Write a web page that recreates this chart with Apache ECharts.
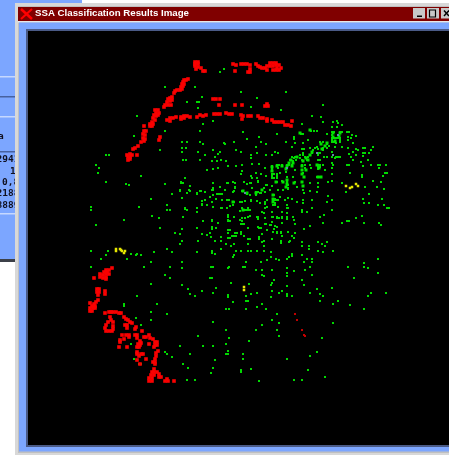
<!DOCTYPE html>
<html><head><meta charset="utf-8">
<style>html,body{margin:0;padding:0;background:#fff;overflow:hidden}#c{width:449px;height:455px}</style>
<script src="https://cdn.jsdelivr.net/npm/echarts@6/dist/echarts.min.js"></script>
</head><body><div id="c"></div>
<script>
const titleText = "SSA Classification Results Image";
const sideLabels = ["a","2941","1","0,8","2188","8889"];

const greenPoints = [
[165,87],[195,87],[220,72],[224,69],[202,97],[187,102],[197,102],[199,102],[198,108],[137,116],[203,124],[213,121],[165,131],[200,131],[134,136],[182,142],[187,142],[200,142],[203,144],[224,143],[182,148],[186,148],[182,152],[160,150],[198,152],[213,150],[220,152],[218,154],[215,157],[106,155],[109,155],[205,155],[183,160],[186,160],[200,160],[212,161],[217,161],[221,160],[96,165],[99,168],[98,173],[207,170],[213,169],[218,168],[141,176],[185,178],[106,182],[126,184],[129,185],[165,184],[181,182],[190,186],[213,183],[172,194],[180,191],[190,191],[187,193],[197,194],[201,191],[205,192],[213,190],[217,194],[222,194],[182,198],[210,197],[216,199],[222,200],[202,201],[151,199],[91,207],[91,210],[139,207],[167,205],[167,210],[170,210],[185,208],[187,210],[197,208],[197,212],[202,205],[207,205],[212,202],[213,207],[221,208],[152,216],[159,218],[183,217],[124,220],[203,221],[212,220],[218,223],[96,225],[160,228],
[241,92],[286,92],[257,98],[323,105],[251,107],[281,110],[312,116],[321,117],[323,122],[302,124],[243,132],[277,134],[247,139],[259,137],[261,142],[266,144],[256,147],[234,142],[225,144],[236,150],[241,152],[251,155],[251,158],[257,153],[266,155],[272,155],[275,152],[278,153],[226,161],[228,166],[236,166],[242,165],[242,171],[241,174],[252,164],[259,164],[265,168],[256,173],[261,174],[251,176],[252,178],[257,178],[266,176],[244,182],[251,183],[247,184],[258,182],[235,183],[228,183],[235,188],[225,190],[234,191],[242,191],[247,194],[252,188],[258,192],[256,195],[261,193],[264,188],[267,185],
[272,166],[272,168],[272,170],[277,165],[279,165],[282,165],[287,165],[289,165],[292,165],[286,168],[286,172],[278,168],[272,174],[274,174],[277,174],[272,176],[277,176],[272,178],[274,178],[277,178],[280,173],[287,177],[282,181],[287,182],[288,185],[288,188],[295,170],[293,177],[295,182],[297,187],[302,182],[303,190],[304,193],[310,191],[317,192],[318,187],[310,183],[318,183],[328,182],[332,181],[342,183],[332,174],[317,177],[320,177],[303,173],[305,168],[302,165],[305,165],[318,165],[320,165],[318,167],[320,167],[318,169],[310,165],[311,168],[323,165],[325,170],[332,168],[333,165],[332,163],[347,165],[349,165],[350,173],[362,175],[362,177],[363,166],[371,165],[378,165],[380,165],[379,168],[386,165],[385,173],[387,173],[383,176],[373,181],[381,182],[377,187],[384,189],[365,187],[346,192],[369,194],[363,199],[382,199],[364,203],[369,203],[378,205],[384,205],[387,208],[389,208],[332,200],[328,196],[327,202],[332,210],[324,215],[320,217],[312,200],[312,208],[303,200],[303,203],[297,202],[302,210],[302,212],[307,212],[293,217],[294,220],[287,217],[282,217],[282,223],[278,207],[282,212],[287,208],[288,198],[292,199],[280,197],[273,200],[275,200],[277,200],[274,195],[275,203],[275,205],[265,203],[267,200],[265,208],[264,213],[260,203],[257,201],[251,200],[245,201],[244,210],[246,210],[248,210],[240,202],[234,202],[227,200],[230,206],[240,211],[245,218],[248,217],[257,217],[272,217],[277,217],[228,217],[228,220],[234,217],[240,220],[242,224],[244,224],[258,227],[265,224],[270,225],[275,226],[295,224],[310,226],[323,223],[342,223],[347,221],[349,221],[356,218],[364,223],[362,216],[379,223],[381,225],
[333,122],[337,121],[338,123],[342,125],[332,127],[337,127],[332,132],[334,132],[332,135],[340,132],[342,132],[347,132],[349,132],[352,135],[356,136],[348,137],[348,140],[351,138],[353,143],[332,138],[334,138],[336,138],[338,138],[340,138],[332,140],[340,140],[332,142],[334,142],[336,143],[340,142],[327,134],[311,131],[314,131],[317,131],[301,134],[303,134],[294,137],[294,139],[308,140],[303,143],[295,143],[286,142],[292,147],[302,149],[304,149],[310,148],[317,147],[320,142],[323,142],[323,148],[323,150],[327,148],[332,152],[335,147],[342,147],[348,148],[356,149],[358,150],[363,148],[365,148],[373,147],[371,150],[369,153],[363,153],[365,153],[353,152],[349,154],[351,157],[356,155],[363,156],[353,160],[361,162],[368,160],[340,157],[335,158],[332,157],[336,157],[338,157],[327,157],[318,153],[320,153],[318,155],[318,160],[320,160],[324,157],[305,157],[303,155],[303,153],[307,160],[300,155],[312,153],[308,157],[302,160],[295,157],[290,160],[292,157],[294,158],[293,161],[296,160],[300,158],[310,155],[313,150],[315,148],[318,149],[325,146],[327,144],[329,146],
[175,233],[180,234],[182,229],[197,228],[202,234],[207,235],[210,233],[211,237],[215,241],[221,237],[221,241],[198,241],[182,241],[180,244],[221,249],[212,251],[212,253],[215,254],[197,252],[172,252],[167,249],[154,252],[151,262],[141,255],[137,254],[136,255],[131,254],[127,259],[108,251],[106,255],[101,259],[91,251],[91,267],[144,267],[170,267],[182,262],[182,268],[211,267],[213,267],[165,275],[170,278],[210,278],[212,278],[182,285],[151,284],[188,289],[202,291],[216,288],[190,294],[195,296],[213,293],[137,296],[157,304],[124,304],[124,306],[151,312],[167,314],[136,318],[151,320],[141,325],[213,322],[198,336],[131,344],[180,346],[203,346],[213,346],[165,352],[167,354],[172,357],[190,354],[134,359],[215,360],[183,364],[139,364],[141,364],[188,368],[213,368],[211,373],[187,380],[195,380],
[228,233],[235,233],[237,233],[241,232],[241,234],[244,236],[232,236],[234,236],[236,236],[228,238],[230,238],[248,239],[250,239],[259,237],[259,239],[262,234],[267,230],[274,229],[277,233],[281,233],[282,236],[272,239],[264,241],[262,242],[281,241],[281,243],[290,241],[289,242],[292,236],[294,238],[295,233],[304,229],[302,242],[302,246],[309,246],[309,249],[318,242],[322,244],[327,242],[325,246],[318,251],[323,252],[333,251],[226,244],[231,246],[234,244],[248,244],[264,246],[236,251],[241,251],[248,251],[251,251],[257,251],[264,251],[271,252],[271,257],[267,260],[261,262],[246,262],[234,255],[233,257],[276,259],[279,260],[287,259],[289,257],[292,254],[292,256],[302,255],[307,259],[312,259],[304,262],[312,262],[310,267],[305,270],[287,268],[294,271],[287,273],[287,276],[312,275],[302,280],[304,285],[287,286],[272,270],[262,270],[256,270],[243,267],[245,267],[229,267],[228,268],[262,275],[264,276],[274,280],[272,283],[271,285],[231,283],[249,284],[272,291],[279,293],[282,291],[257,293],[228,295],[228,297],[251,294],[246,296],[271,297],[287,294],[287,296],[292,296],[310,293],[317,289],[320,294],[323,296],[320,301],[332,288],[338,301],[333,304],[350,305],[364,309],[368,296],[371,293],[386,293],[354,278],[378,273],[368,268],[364,267],[364,263],[378,259],[348,267],[233,302],[246,301],[248,301],[262,304],[226,309],[229,309],[246,309],[257,307],[266,309],[277,314],[272,320],[279,323],[262,325],[333,323],[226,330],[256,330],[277,330],[279,336],[229,338],[249,341],[226,344],[322,338],[228,351],[243,354],[226,354],[228,354],[243,359],[287,359],[310,356],[317,352],[251,369],[241,370],[241,372],[308,370],[325,377],[259,381],[294,380],[302,380],
[181,183],[183,183],[190,186],[189,190],[187,193],[200,191],[205,192],[212,190],[213,188],[213,195],[213,183],[227,183],[233,182],[244,182],[250,183],[258,181],[266,185],[272,186],[277,182],[287,185],[288,189],[220,187],[235,187],[233,192],[242,191],[250,195],[256,192],[260,193],[265,192],[270,190],[278,190],[283,190],[197,193],[180,190],[172,194],[217,194],[219,194],[221,194],[182,198],[205,200],[212,202],[222,200],[227,200],[229,200],[233,202],[242,202],[245,201],[251,201],[257,201],[265,202],[273,199],[275,199],[278,200],[285,200],[202,204],[213,207],[222,208],[227,208],[233,205],[242,208],[248,208],[265,204],[267,207],[273,205],[278,207],[287,205],[288,208],[197,208],[185,209],[170,210],[197,212],[228,215],[228,217],[250,210],[250,216],[234,217],[242,218],[245,218],[262,212],[258,217],[272,212],[273,217],[277,218],[279,218],[282,218],[287,213],[183,217],[203,221],[212,221],[228,221],[230,221],[242,221],[258,219],[265,218],[272,222],[287,219],[218,223],[241,224],[244,224],[266,224],[271,225],[277,227],[282,223],[197,228],[182,229],[212,227],[212,229],[216,228],[228,230],[230,230],[248,228],[259,228],[261,228],[273,232],[277,232],[281,232],[288,232],[175,233]
];

const greenBlocks = [
[300,133],[310,130],[333,137],[335,141],[339,136],[333,133],[340,133],[321,144],[325,146],[322,149],[327,143],
[310,155],[306,158],[303,161],[312,152],[308,160],[291,160],[289,163],[293,163],[297,157],
[272,167],[272,171],[277,166],[282,166],[287,166],[292,166],[286,169],[302,166],[302,170],[302,174],[304,177],[306,170],[317,165],[319,168],[318,177],[321,177],
[287,180],[287,184],[286,187],[302,182],[303,186],[273,195],[273,199],[273,202],[243,210],[233,202],[262,190],[256,193],[247,193],[243,191],[276,182],[283,182],[294,183]
];

const redPoints = [
[195,62],[198,62],[195,64],[198,64],[195,66],[198,67],[201,68],[196,69],[205,71],[203,71],
[233,64],[236,65],[241,64],[244,64],[247,64],[250,65],[250,69],[235,71],[256,64],[258,66],[260,67],[262,68],[265,68],[267,66],[267,70],[270,63],[273,63],[276,63],[270,66],[273,66],[276,65],[279,65],[273,70],[276,70],[279,70],[277,68],[281,68],[250,72],[248,72],
[188,79],[186,80],[184,80],[183,82],[182,84],[184,84],[181,87],[183,86],[180,90],[182,89],[177,90],[175,91],[174,93],
[172,97],[170,98],[168,99],[170,101],[167,102],[172,100],[165,105],[168,105],[164,107],[171,105],[158,110],[155,110],
[159,113],[156,113],[154,115],[156,116],[158,115],[153,118],[155,120],[152,122],[150,124],[153,124],[150,126],[152,126],[144,126],
[144,131],[146,131],[143,134],[145,135],[143,138],[145,139],[141,142],[144,141],[160,137],[159,140],
[138,146],[135,148],[133,149],[130,154],[128,157],[130,157],[132,155],[128,160],[130,159],[137,155],[127,155],
[213,99],[216,99],[220,99],[219,105],[235,105],[242,105],[265,106],[268,106],[267,104],
[170,118],[173,118],[176,117],[167,120],[170,121],[181,117],[184,116],[187,116],[181,119],[184,118],[190,117],[197,117],[200,115],[203,116],[206,115],[214,114],[217,114],[220,114],
[226,113],[229,114],[232,114],[241,115],[243,116],[242,119],[248,116],[251,116],[258,116],[260,118],[263,118],[267,119],[267,121],[272,120],[274,122],[277,122],[280,122],[283,122],[285,125],[288,125],[291,126],[292,121],
[112,268],[106,270],[109,270],[104,272],[107,272],[100,274],[103,275],[106,274],[109,274],[100,277],[103,278],[106,277],[106,279],[94,278],
[97,289],[99,289],[97,292],[99,292],[98,295],[105,291],[105,294],
[98,300],[96,302],[90,303],[94,304],[92,306],[95,306],[90,308],[93,308],[95,308],[90,311],[92,311],
[105,313],[109,312],[111,312],[113,312],[116,312],[119,313],[121,313],[110,317],[111,320],[113,322],[108,322],[106,325],[105,328],[113,326],[113,329],[106,331],[109,331],[112,331],
[124,317],[126,319],[128,320],[130,322],[132,323],[125,325],[127,325],[127,328],[135,329],[136,327],[142,331],
[122,335],[126,335],[129,335],[129,337],[135,335],[137,335],[137,338],[144,337],[146,337],[149,335],[150,338],[153,339],[120,340],[120,342],[124,339],[140,341],[141,343],[138,344],[140,345],[149,344],[155,342],[157,342],[155,345],[157,345],[154,347],[137,347],[139,347],[119,347],[127,347],
[137,352],[137,354],[141,354],[143,354],[139,356],[146,359],[137,360],[140,364],
[158,351],[156,353],[156,356],[155,359],[155,362],[153,362],[155,364],
[154,369],[152,372],[154,372],[151,375],[154,375],[149,378],[152,378],[149,381],[152,381],[157,372],[159,374],[159,377],[161,377],[167,379],[165,381],[168,381],[174,381]
];

const darkRedPoints = [[295,314],[297,320],[302,330],[304,335],[305,336]];
const yellowPoints = [[116,249],[116,251],[120,249],[121,250],[122,251],[125,251],[124,253],[244,287],[244,290],[346,186],[352,187],[350,188],[356,184],[358,186]];
const steelPoints = [[317,153],[338,135],[333,155],[245,193],[287,168]];

const scatter = (data, size, color) => ({
  type: 'scatter', data, symbol: 'rect', symbolSize: size, silent: true,
  itemStyle: {color, opacity: 1}, animation: false
});

const rect = (x, y, w, h, fill, z) => ({type:'rect', z: z||1, silent:true, shape:{x,y,width:w,height:h}, style:{fill}});
const blue = '#7ca6ff';
const chrome = [
  rect(0,0,449,455,'#ffffff',0),
  rect(0,0,82,4,blue,1),
  rect(0,0,16,260,blue,1),
  rect(0,76,16,1.5,'#c6d8ff',2),
  rect(0,96,16,1.5,'#47619f',2),
  rect(0,116,16,1.5,'#c6d8ff',2),
  rect(0,151,16,1.5,'#47619f',2),
  rect(0,213,16,1.5,'#c6d8ff',2),
  rect(0,259,16,3,'#3c4048',2),
  rect(15,3,434,453,'#d8d8d8',5),
  rect(18,6,431,447,'#c0c0c0',6),
  rect(18,7,431,14,'#800000',7),
  rect(18,21,431,1.5,'#e8e8e8',7),
  rect(19,22.5,430,429,blue,7),
  rect(26,29,423,418,'#4a5a86',8),
  rect(28,31,421,414,'#000000',9),
  {type:'line', z:10, silent:true, shape:{x1:21,y1:9,x2:32,y2:19}, style:{stroke:'#ff0000',lineWidth:2.5}},
  {type:'line', z:10, silent:true, shape:{x1:32,y1:9,x2:21,y2:19}, style:{stroke:'#ff0000',lineWidth:2}},
  rect(413,8,12,10.5,'#c8c8c8',10),
  rect(417,15.5,5,1.5,'#000000',11),
  rect(427,8,12,10.5,'#c8c8c8',10),
  {type:'rect', z:11, silent:true, shape:{x:429.5,y:10,width:6,height:7}, style:{fill:'none',stroke:'#000',lineWidth:1.2}},
  rect(441,8,8,10.5,'#c8c8c8',10),
  {type:'line', z:11, silent:true, shape:{x1:444,y1:10.5,x2:449,y2:16}, style:{stroke:'#000',lineWidth:1.5}},
  {type:'line', z:11, silent:true, shape:{x1:449,y1:10.5,x2:444,y2:16}, style:{stroke:'#000',lineWidth:1.5}}
];
const labelY = [137,160,172,183,194,206];
const labelX = [-2,-3.5,10,2,-3.5,-3.5];
sideLabels.forEach((t,i)=>chrome.push({type:'text', z:3, silent:true, x:labelX[i], y:labelY[i],
  style:{text:t, fill:'#101020', font:'bold 9.5px "DejaVu Sans Mono"', textVerticalAlign:'middle'}}));

const chart = echarts.init(document.getElementById('c'), null, {renderer:'canvas'});
chart.setOption({
  animation:false,
  backgroundColor:'#ffffff',
  title:{text:titleText, left:35, top:8, padding:0, z:20,
    textStyle:{color:'#ffffff', fontFamily:'"Liberation Sans"', fontWeight:'bold', fontSize:9.7}},
  graphic:{elements:chrome},
  grid:{left:0,right:0,top:0,bottom:0,z:30},
  xAxis:{type:'value',min:0,max:449,show:false},
  yAxis:{type:'value',min:0,max:455,inverse:true,show:false},
  series:[
    {...scatter(greenPoints,2,'#00d800'), z:30},
    {...scatter(greenBlocks,3,'#00e400'), z:30},
    {...scatter(redPoints,3.6,'#fa0000'), z:31},
    {...scatter(darkRedPoints,2,'#c00000'), z:31},
    {...scatter(yellowPoints,2.5,'#e6e600'), z:31},
    {...scatter(steelPoints,2,'#5f88a8'), z:31}
  ]
});
</script></body></html>
